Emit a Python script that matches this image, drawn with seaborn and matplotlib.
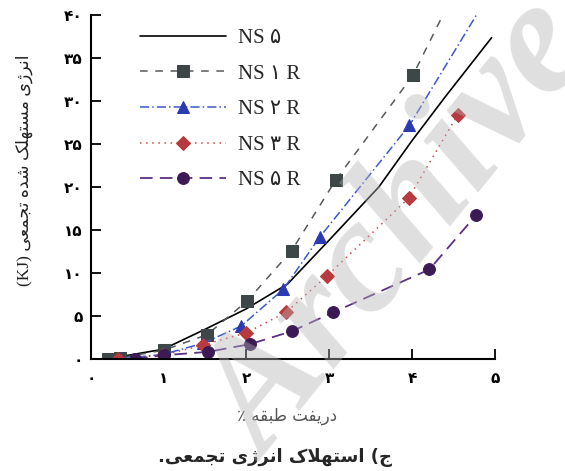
import matplotlib
matplotlib.use('Agg')
import matplotlib.pyplot as plt
import seaborn as sns

# data (drift %, cumulative energy kJ)
ns5_x = [0.34, 1.0, 1.5, 2.0, 2.5, 3.0, 3.6, 4.0, 4.4, 4.96]
ns5_y = [0.0, 1.1, 3.4, 5.8, 8.7, 13.8, 20.0, 25.4, 30.5, 37.4]

ns1r_x = [0.34, 0.48, 1.01, 1.53, 2.01, 2.55, 3.08, 4.01, 4.5]
ns1r_y = [0.0, 0.1, 1.0, 2.8, 6.7, 12.6, 20.8, 33.0, 42.5]

ns2r_x = [0.48, 1.0, 1.48, 1.94, 2.45, 2.89, 3.97, 4.9]
ns2r_y = [0.0, 0.5, 1.8, 3.8, 8.1, 14.2, 27.2, 42.0]

ns3r_x = [0.46, 1.0, 1.48, 2.0, 2.48, 2.97, 3.96, 4.55]
ns3r_y = [0.0, 0.4, 1.6, 3.0, 5.4, 9.6, 18.7, 28.4]

ns5r_x = [0.66, 1.01, 1.54, 2.05, 2.55, 3.05, 4.21, 4.77]
ns5r_y = [0.0, 0.4, 0.8, 1.7, 3.2, 5.4, 10.4, 16.7]

x_ticks = [0.13, 1, 2, 3, 4, 5]
x_ticklabels = ['۰', '۱', '۲', '۳', '۴', '۵']
y_ticks = [0, 5, 10, 15, 20, 25, 30, 35, 40]
y_ticklabels = ['۰', '۵', '۱۰', '۱۵', '۲۰', '۲۵', '۳۰', '۳۵', '۴۰']

# matplotlib has no arabic shaping, so pick presentation forms by hand
# (isolated, final, initial, medial)
FORMS = {
    'ا': ('\uFE8D', '\uFE8E', None, None),
    'ب': ('\uFE8F', '\uFE90', '\uFE91', '\uFE92'),
    'ت': ('\uFE95', '\uFE96', '\uFE97', '\uFE98'),
    'ج': ('\uFE9D', '\uFE9E', '\uFE9F', '\uFEA0'),
    'د': ('\uFEA9', '\uFEAA', None, None),
    'ر': ('\uFEAD', '\uFEAE', None, None),
    'ژ': ('\uFB8A', '\uFB8B', None, None),
    'س': ('\uFEB1', '\uFEB2', '\uFEB3', '\uFEB4'),
    'ش': ('\uFEB5', '\uFEB6', '\uFEB7', '\uFEB8'),
    'ط': ('\uFEC1', '\uFEC2', '\uFEC3', '\uFEC4'),
    'ع': ('\uFEC9', '\uFECA', '\uFECB', '\uFECC'),
    'ف': ('\uFED1', '\uFED2', '\uFED3', '\uFED4'),
    'ق': ('\uFED5', '\uFED6', '\uFED7', '\uFED8'),
    'ک': ('\uFB8E', '\uFB8F', '\uFB90', '\uFB91'),
    'ل': ('\uFEDD', '\uFEDE', '\uFEDF', '\uFEE0'),
    'م': ('\uFEE1', '\uFEE2', '\uFEE3', '\uFEE4'),
    'ن': ('\uFEE5', '\uFEE6', '\uFEE7', '\uFEE8'),
    'ه': ('\uFEE9', '\uFEEA', '\uFEEB', '\uFEEC'),
    'ی': ('\uFBFC', '\uFBFD', '\uFBFE', '\uFBFF'),
    '\uFEFB': ('\uFEFB', '\uFEFC', None, None),  # lam-alef
}
MIRROR = {'(': ')', ')': '('}


def shape_fa(text):
    chars = list(text.replace('لا', '\uFEFB'))
    out = []
    for i, c in enumerate(chars):
        if c not in FORMS:
            out.append(MIRROR.get(c, c))
            continue
        prev = chars[i - 1] if i > 0 else ''
        nxt = chars[i + 1] if i + 1 < len(chars) else ''
        p = prev in FORMS and FORMS[prev][2] is not None
        n = FORMS[c][2] is not None and nxt in FORMS
        iso, fin, ini, med = FORMS[c]
        out.append(med if p and n else fin if p else ini if n else iso)
    # visual order, right to left
    return ''.join(out)[::-1]


sns.set_style('ticks')
fig = plt.figure(figsize=(5.65, 4.71), dpi=100)
ax = fig.add_axes([0.161, 0.2384, 0.715, 0.729])

fa = ['DejaVu Sans']
serif = ['Liberation Serif', 'DejaVu Sans']

sns.lineplot(x=ns5_x, y=ns5_y, ax=ax, color='black', lw=1.2, label='NS ۵')
sns.lineplot(x=ns1r_x, y=ns1r_y, ax=ax, color='#555a5a', lw=1.1,
             linestyle=(0, (5, 5)), marker='s', markersize=8,
             markerfacecolor='#3e4747', markeredgecolor='#3e4747', label='NS ۱ R')
sns.lineplot(x=ns2r_x, y=ns2r_y, ax=ax, color='#3c58cc', lw=1.1,
             linestyle=(0, (6, 2, 1, 2)), marker='^', markersize=9,
             markerfacecolor='#2a3ab0', markeredgecolor='#2a3ab0', label='NS ۲ R')
sns.lineplot(x=ns3r_x, y=ns3r_y, ax=ax, color='#d04848', lw=1.1,
             linestyle=(0, (1, 3)), marker='D', markersize=7,
             markerfacecolor='#b73a3e', markeredgecolor='#b73a3e', label='NS ۳ R')
sns.lineplot(x=ns5r_x, y=ns5r_y, ax=ax, color='#5b2f86', lw=1.3,
             linestyle=(0, (7, 4)), marker='o', markersize=8.5,
             markerfacecolor='#3c1a55', markeredgecolor='#3c1a55', label='NS ۵ R')

ax.set_xlim(0.13, 5.0)
ax.set_ylim(0, 40)
ax.set_xticks(x_ticks)
ax.set_xticklabels(x_ticklabels, family=fa, fontsize=11, fontweight='bold')
ax.set_yticks(y_ticks)
ax.set_yticklabels(y_ticklabels, family=fa, fontsize=11, fontweight='bold')
ax.tick_params(direction='in', length=7, width=1.3, colors='black')
ax.tick_params(axis='x', pad=9)
ax.tick_params(axis='y', pad=6)
for s in ['top', 'right']:
    ax.spines[s].set_visible(False)
for s in ['left', 'bottom']:
    ax.spines[s].set_linewidth(1.5)
    ax.spines[s].set_color('black')

ax.set_xlabel(shape_fa('دریفت طبقه ٪'), family=fa, fontsize=12, color='#555555')
ax.xaxis.set_label_coords(0.485, -0.14)
ax.set_ylabel('(KJ) ' + shape_fa('انرژی مستهلک شده تجمعی'), family=serif,
              fontsize=12.5, color='#222222')
ax.yaxis.set_label_coords(-0.144, 0.55)

ax.legend(loc='upper left', bbox_to_anchor=(0.122, 0.962), frameon=False,
          prop={'family': serif, 'size': 15}, handlelength=4.1,
          handletextpad=0.6, labelspacing=0.77, borderpad=0, borderaxespad=0)

fig.text(0.487, 0.028, shape_fa('ج) استهلاک انرژی تجمعی.'), family=fa,
         fontsize=13, fontweight='bold', ha='center', va='center')

# watermark
fig.text(0.712, 0.505, 'Archive', family='Liberation Serif', fontsize=118,
         fontweight='bold', style='italic', color='#b4b4b4', alpha=0.42,
         rotation=51, ha='center', va='center', zorder=10)

fig.savefig('out.png', dpi=100)
